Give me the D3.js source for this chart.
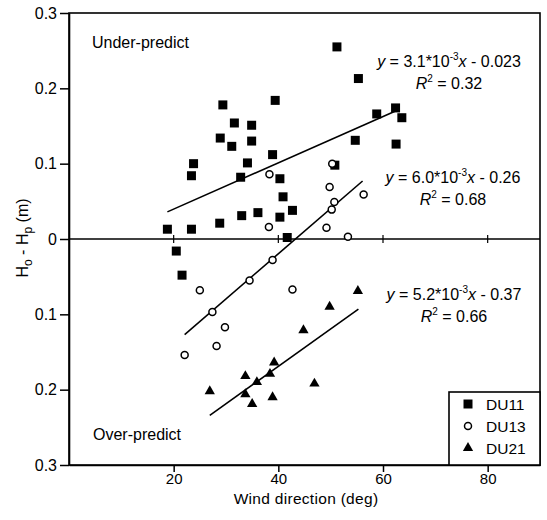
<!DOCTYPE html>
<html>
<head>
<meta charset="utf-8">
<script src="https://cdn.jsdelivr.net/npm/d3@7"></script>
<style>
  body { margin: 0; background: #fff; }
  text { font-family: "Liberation Sans", Arial, sans-serif; fill: #000; }
</style>
</head>
<body>
<div id="chart"></div>
<script>
// DU11 points (wind direction, Ho - Hp)
var du11X = [18.8, 20.5, 21.6, 23.4, 23.4, 23.8, 28.8, 28.9, 29.4, 31.1, 31.6, 32.8, 33.0, 34.1, 34.9, 34.9,
  36.1, 38.9, 39.4, 40.3, 40.3, 40.9, 41.7, 42.7, 50.8, 51.2, 54.7, 55.3, 58.8, 62.4, 62.5, 63.6]
var du11Y = [0.013, -0.016, -0.048, 0.013, 0.084, 0.100, 0.021, 0.134, 0.178, 0.123, 0.154, 0.082, 0.031, 0.101, 0.130, 0.151,
  0.035, 0.112, 0.184, 0.080, 0.029, 0.056, 0.002, 0.038, 0.098, 0.255, 0.131, 0.213, 0.166, 0.174, 0.126, 0.161]
// DU13
var du13X = [22.1, 25.0, 27.4, 28.2, 29.8, 34.5, 38.2, 38.3, 38.9, 42.7, 49.2, 49.8, 50.2, 50.3, 50.7, 53.3, 56.3]
var du13Y = [-0.154, -0.068, -0.097, -0.142, -0.117, -0.055, 0.016, 0.086, -0.028, -0.067, 0.015, 0.069, 0.039, 0.100, 0.049, 0.003, 0.059]
// DU21
var du21X = [26.9, 33.7, 33.7, 35.0, 35.9, 38.4, 38.9, 39.2, 44.8, 46.9, 49.8, 55.2]
var du21Y = [-0.202, -0.182, -0.206, -0.219, -0.190, -0.179, -0.210, -0.164, -0.121, -0.192, -0.090, -0.069]

// fitted lines, start and end as drawn
var fitX = [[18.8, 62.4], [22.1, 56.1], [26.9, 55.3]]
var fitY = [[0.036, 0.170], [-0.127, 0.077], [-0.234, -0.093]]
var fitEq = ['3.1', '6.0', '5.2']
var fitB = ['0.023', '0.26', '0.37']
var fitR2 = ['0.32', '0.68', '0.66']

var xTicks = [20, 40, 60, 80]
var yTicks = [-0.3, -0.2, -0.1, 0, 0.1, 0.2, 0.3]
var seriesNames = ['DU11', 'DU13', 'DU21']

var svg = d3.select('#chart').append('svg')
  .attr('width', 547)
  .attr('height', 520)

var x = d3.scaleLinear().domain([0, 90]).range([69, 540])
var y = d3.scaleLinear().domain([-0.3, 0.3]).range([465, 13])

// frame
svg.append('rect')
  .attr('x', x(0)).attr('y', y(0.3))
  .attr('width', x(90) - x(0)).attr('height', y(-0.3) - y(0.3))
  .attr('fill', 'none').attr('stroke', '#000').attr('stroke-width', 1.6)

// axes
var xAxis = svg.append('g')
  .attr('transform', 'translate(0,' + y(-0.3) + ')')
  .call(d3.axisBottom(x).tickValues(xTicks).tickSize(7).tickSizeOuter(0).tickPadding(1.5))
xAxis.select('.domain').attr('stroke-width', 1.6)
xAxis.selectAll('line').attr('stroke-width', 1.5)
xAxis.selectAll('text').attr('font-size', 15)

var yAxis = svg.append('g')
  .attr('transform', 'translate(' + x(0) + ',0)')
  .call(d3.axisLeft(y).tickValues(yTicks).tickSize(9).tickSizeOuter(0).tickPadding(3)
    .tickFormat(function (d) { return d === 0 ? '0' : d3.format('.1f')(Math.abs(d)) }))
yAxis.select('.domain').attr('stroke-width', 1.6)
yAxis.selectAll('line').attr('stroke-width', 1.5)
yAxis.selectAll('text').attr('font-size', 16)

// zero line with crossing ticks
svg.append('line')
  .attr('x1', x(0)).attr('x2', x(90))
  .attr('y1', y(0)).attr('y2', y(0))
  .attr('stroke', '#000').attr('stroke-width', 1.6)
svg.selectAll('.zt').data(xTicks).enter().append('line')
  .attr('x1', function (d) { return x(d) }).attr('x2', function (d) { return x(d) })
  .attr('y1', y(0) - 4).attr('y2', y(0) + 4)
  .attr('stroke', '#000').attr('stroke-width', 1.2)

// axis titles
svg.append('text')
  .attr('x', 306).attr('y', 504)
  .attr('text-anchor', 'middle').attr('font-size', 15.5)
  .attr('letter-spacing', 0.3)
  .text('Wind direction (deg)')

var yt = svg.append('text')
  .attr('transform', 'translate(28,' + 238 + ') rotate(-90)')
  .attr('text-anchor', 'middle').attr('font-size', 16)
yt.append('tspan').text('H')
yt.append('tspan').attr('font-size', 12).attr('dy', 4).text('o')
yt.append('tspan').attr('dy', -4).text(' - H')
yt.append('tspan').attr('font-size', 12).attr('dy', 4).text('p')
yt.append('tspan').attr('dy', -4).text(' (m)')

// region labels
svg.append('text').attr('x', 92).attr('y', 48).attr('font-size', 16).text('Under-predict')
svg.append('text').attr('x', 93).attr('y', 440).attr('font-size', 16).text('Over-predict')

// fit lines
for (let i = 0; i < fitX.length; i++) {
  svg.append('line')
    .attr('x1', x(fitX[i][0])).attr('y1', y(fitY[i][0]))
    .attr('x2', x(fitX[i][1])).attr('y2', y(fitY[i][1]))
    .attr('stroke', '#000').attr('stroke-width', 1.6)
}

// equations
var eqPos = [[449, 67], [453, 183], [454, 300]]
for (let i = 0; i < fitEq.length; i++) {
  var t = svg.append('text')
    .attr('x', eqPos[i][0]).attr('y', eqPos[i][1])
    .attr('text-anchor', 'middle').attr('font-size', 16)
  t.append('tspan').attr('font-style', 'italic').text('y')
  t.append('tspan').text(' = ' + fitEq[i] + '*10')
  t.append('tspan').attr('font-size', 10).attr('dy', -7).text('-3')
  t.append('tspan').attr('dy', 7).attr('font-style', 'italic').text('x')
  t.append('tspan').text(' - ' + fitB[i])

  var r = svg.append('text')
    .attr('x', eqPos[i][0]).attr('y', eqPos[i][1] + 22)
    .attr('text-anchor', 'middle').attr('font-size', 16)
  r.append('tspan').attr('font-style', 'italic').text('R')
  r.append('tspan').attr('font-size', 10).attr('dy', -7).text('2')
  r.append('tspan').attr('dy', 7).text(' = ' + fitR2[i])
}

// markers
var square = d3.symbol().type(d3.symbolSquare).size(81)
var tri = d3.symbol().type(d3.symbolTriangle).size(46)

svg.selectAll('.du11').data(du11X).enter().append('path')
  .attr('d', square)
  .attr('transform', function (d, i) { return 'translate(' + x(d) + ',' + y(du11Y[i]) + ')' })
  .attr('fill', '#000')

svg.selectAll('.du13').data(du13X).enter().append('circle')
  .attr('cx', function (d) { return x(d) })
  .attr('cy', function (d, i) { return y(du13Y[i]) })
  .attr('r', 3.5)
  .attr('fill', '#fff').attr('stroke', '#000').attr('stroke-width', 1.5)

svg.selectAll('.du21').data(du21X).enter().append('path')
  .attr('d', tri)
  .attr('transform', function (d, i) { return 'translate(' + x(d) + ',' + y(du21Y[i]) + ')' })
  .attr('fill', '#000')

// legend
var lg = svg.append('g')
lg.append('rect')
  .attr('x', 449).attr('y', 392).attr('width', x(90) - 449).attr('height', y(-0.3) - 392)
  .attr('fill', '#fff').attr('stroke', '#000').attr('stroke-width', 1.6)
seriesNames.forEach(function (name, i) {
  var cy = 404 + i * 22
  if (i === 0) {
    lg.append('path').attr('d', square).attr('transform', 'translate(468,' + cy + ')').attr('fill', '#000')
  } else if (i === 1) {
    lg.append('circle').attr('cx', 468).attr('cy', cy).attr('r', 3.5)
      .attr('fill', '#fff').attr('stroke', '#000').attr('stroke-width', 1.5)
  } else {
    lg.append('path').attr('d', tri).attr('transform', 'translate(468,' + cy + ')').attr('fill', '#000')
  }
  lg.append('text').attr('x', 486).attr('y', cy + 6).attr('font-size', 15.5).text(name)
})
</script>
</body>
</html>
